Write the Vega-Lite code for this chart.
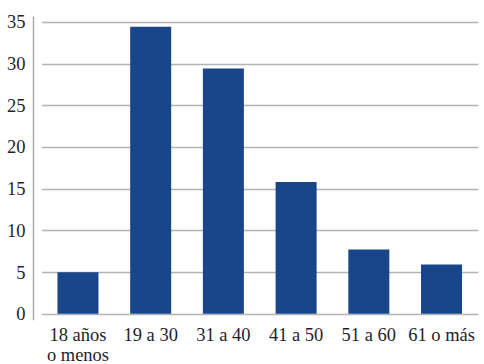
{
  "$schema": "https://vega.github.io/schema/vega-lite/v6.json",
  "autosize": "none",
  "padding": {"left": 33, "top": 16, "right": 0, "bottom": 44},
  "width": 451,
  "height": 303.7,
  "background": "white",
  "config": {
    "view": {"stroke": null},
    "font": "Liberation Sans Narrow"
  },
  "data": {
    "values": [
      {"grupo": "18 años o menos", "valor": 5.0},
      {"grupo": "19 a 30", "valor": 34.4},
      {"grupo": "31 a 40", "valor": 29.4},
      {"grupo": "41 a 50", "valor": 15.8},
      {"grupo": "51 a 60", "valor": 7.7},
      {"grupo": "61 o más", "valor": 5.9}
    ]
  },
  "mark": {"type": "bar", "color": "#19468b"},
  "encoding": {
    "x": {
      "field": "grupo",
      "type": "nominal",
      "sort": null,
      "scale": {"range": [8.6, 444.9], "paddingInner": 0.436, "paddingOuter": 0.218},
      "axis": {
        "title": null,
        "domain": false,
        "ticks": false,
        "labelAngle": 0,
        "labelFont": "Liberation Sans Narrow",
        "labelFontSize": 18.5,
        "labelColor": "#1e1e2e",
        "labelPadding": 6,
        "labelLineHeight": 20,
        "labelExpr": "datum.label == '18 años o menos' ? ['18 años', 'o menos'] : datum.label"
      }
    },
    "y": {
      "field": "valor",
      "type": "quantitative",
      "scale": {"domain": [-0.7, 35.7], "nice": false, "zero": false},
      "axis": {
        "title": null,
        "values": [0, 5, 10, 15, 20, 25, 30, 35],
        "ticks": false,
        "domainColor": "#ababaf",
        "domainWidth": 1.5,
        "grid": true,
        "gridColor": "#b3b3b7",
        "gridWidth": 1.5,
        "labelFont": "Liberation Sans Narrow",
        "labelFontSize": 18.5,
        "labelColor": "#1e1e2e",
        "labelPadding": 8
      }
    },
    "y2": {"datum": 0}
  }
}
